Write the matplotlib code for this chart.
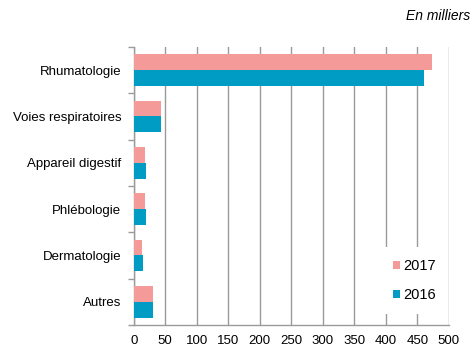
import numpy as np
import matplotlib
matplotlib.use("Agg")
import matplotlib.pyplot as plt

categories = ["Rhumatologie", "Voies respiratoires", "Appareil digestif",
              "Phlébologie", "Dermatologie", "Autres"]
vals_2017 = [473, 44, 18, 18, 13, 31]
vals_2016 = [461, 43, 19, 20, 14, 30]

pink = "#F49A98"
blue = "#009CC4"
grid_col = "#9a9a9a"

plt.rcParams["font.family"] = ["Liberation Sans", "DejaVu Sans"]

fig = plt.figure(figsize=(4.73, 3.53), dpi=100)
ax = fig.add_axes([0.2827, 0.0793, 0.6663, 0.7877])

n = len(categories)
y = np.arange(n)[::-1]
h = 0.34
ax.barh(y + h / 2, vals_2017, height=h, color=pink, label="2017", zorder=3)
ax.barh(y - h / 2, vals_2016, height=h, color=blue, label="2016", zorder=3)

ax.set_xlim(0, 500)
ax.set_ylim(-0.5, n - 0.5)
ax.set_xticks(np.arange(0, 501, 50))
ax.set_yticks(y)
ax.set_yticklabels(categories)
ax.set_yticks(np.arange(-0.5, n, 1), minor=True)
ax.tick_params(axis="y", which="major", length=0, pad=9, labelsize=9.5)
ax.tick_params(axis="y", which="minor", length=4, color=grid_col, width=1)
ax.tick_params(axis="x", length=0, pad=7, labelsize=9.5)
ax.grid(axis="x", color=grid_col, linewidth=1, zorder=0)

for s in ["top", "right"]:
    ax.spines[s].set_visible(False)
for s in ["left", "bottom"]:
    ax.spines[s].set_color(grid_col)
    ax.spines[s].set_linewidth(1)

leg = ax.legend(loc="lower right", bbox_to_anchor=(0.997, 0.04), frameon=True,
                fancybox=False, edgecolor="none", facecolor="white", framealpha=1,
                handlelength=0.5, handleheight=0.5, handletextpad=0.25,
                labelspacing=1.05, fontsize=10.5, borderpad=0.8,
                borderaxespad=0.0)
leg.set_zorder(5)

fig.text(0.995, 0.955, "En milliers", ha="right", va="center",
         fontsize=10, style="italic")

fig.savefig("out.png", dpi=100)
